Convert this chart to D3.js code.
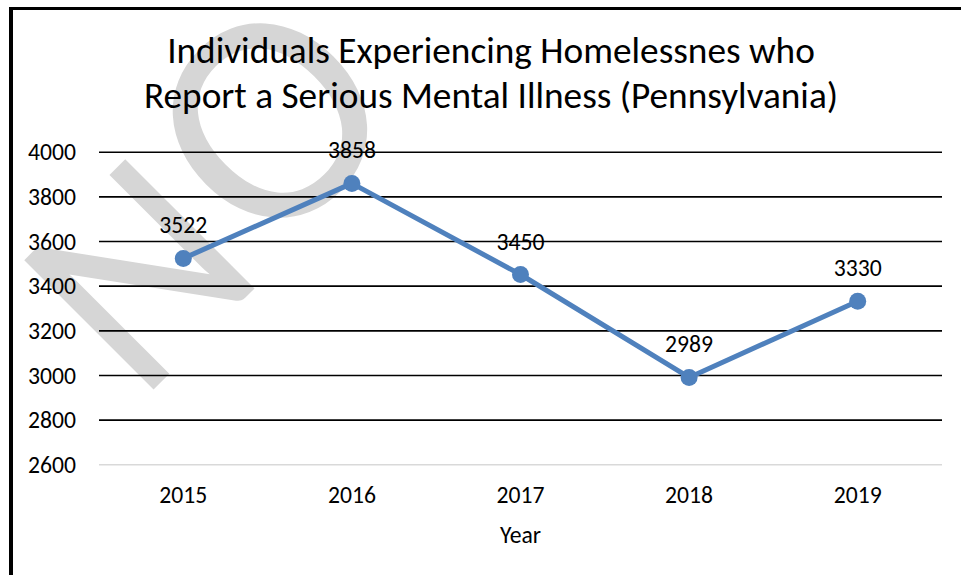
<!DOCTYPE html>
<html>
<head>
<meta charset="utf-8">
<script src="https://cdn.jsdelivr.net/npm/d3@7"></script>
<style>
  body { margin: 0; background: #fff; }
  svg text { font-family: Carlito, Calibri, Lato, sans-serif; fill: #000; }
</style>
</head>
<body>
<svg id="chart" width="961" height="575"></svg>
<script>
// data
var years = ["2015", "2016", "2017", "2018", "2019"];
var counts = [3522, 3858, 3450, 2989, 3330];
var yTicks = [2600, 2800, 3000, 3200, 3400, 3600, 3800, 4000];
var titleLines = ["Individuals Experiencing Homelessnes who",
                  "Report a Serious Mental Illness (Pennsylvania)"];
var xTitle = "Year";
var watermark = ["N", "O"];

var svg = d3.select("#chart"),
    width = +svg.attr("width"),
    height = +svg.attr("height");

svg.append("rect").attr("width", width).attr("height", height).attr("fill", "#fff");

// grey watermark behind everything
var wm = svg.append("text")
   .attr("transform", "translate(139,404) rotate(-45)")
   .style("font-size", "285px")
   .style("fill", "#d6d6d6");
wm.selectAll("tspan")
   .data(watermark)
   .enter().append("tspan")
   .attr("dx", function(d, i) { return i == 0 ? 0 : 8; })
   .attr("dy", function(d, i) { return i == 0 ? 0 : -10; })
   .style("font-size", function(d, i) { return i == 0 ? null : "305px"; })
   .text(function(d) { return d; });

// frame (left and top edges show)
svg.append("line").attr("x1", 11).attr("x2", 11).attr("y1", 7).attr("y2", height)
   .attr("stroke", "#000").attr("stroke-width", 4);
svg.append("line").attr("x1", 9).attr("x2", width).attr("y1", 8.5).attr("y2", 8.5)
   .attr("stroke", "#000").attr("stroke-width", 3);

var plot = { left: 99, right: 942, top: 151.7, bottom: 464.3 };

var x = d3.scaleBand().domain(years).range([plot.left, plot.right]);
var y = d3.scaleLinear().domain([2600, 4000]).range([plot.bottom, plot.top]);
var cx = function(d) { return x(d) + x.bandwidth() / 2; };

// pick a font size that gives the widths seen in the picture
function fitSize(str, target, base) {
  var t = svg.append("text").style("font-size", base + "px").text(str);
  var w = t.node().getComputedTextLength();
  t.remove();
  return base * target / w;
}
var titleSize = fitSize(titleLines[0], 648, 32);
var tickSize = fitSize("4000", 48, 20);

// title
svg.selectAll(".title")
   .data(titleLines)
   .enter().append("text")
   .attr("class", "title")
   .attr("x", 491)
   .attr("y", function(d, i) { return 63 + i * 45; })
   .attr("text-anchor", "middle")
   .style("font-size", titleSize + "px")
   .text(function(d) { return d; });

// y axis + gridlines
var yAxis = svg.append("g")
   .attr("transform", "translate(" + plot.left + ",0)")
   .call(d3.axisLeft(y).tickValues(yTicks).tickFormat(d3.format("d"))
         .tickSize(-(plot.right - plot.left)).tickPadding(23));
yAxis.select(".domain").remove();
yAxis.selectAll("line")
   .attr("stroke", function(d) { return d == 2600 ? "#d9d9d9" : "#000"; })
   .attr("stroke-width", function(d) { return d == 2600 ? 1.5 : 1.6; });
yAxis.selectAll("text")
   .attr("dy", "0.35em")
   .style("font-size", tickSize + "px")
   .attr("font-family", null);

// x axis labels
var xAxis = svg.append("g")
   .attr("transform", "translate(0," + plot.bottom + ")")
   .call(d3.axisBottom(x).tickSize(0).tickPadding(0));
xAxis.select(".domain").remove();
xAxis.selectAll("text")
   .attr("y", 38.7).attr("dy", null)
   .style("font-size", tickSize + "px")
   .attr("font-family", null);

svg.append("text")
   .attr("x", (plot.left + plot.right) / 2)
   .attr("y", 543)
   .attr("text-anchor", "middle")
   .style("font-size", tickSize + "px")
   .text(xTitle);

// the series
var data = years.map(function(d, i) { return { year: d, value: counts[i] }; });

var line = d3.line()
   .x(function(d) { return cx(d.year); })
   .y(function(d) { return y(d.value); });

svg.append("path")
   .datum(data)
   .attr("d", line)
   .attr("fill", "none")
   .attr("stroke", "#4f81bd")
   .attr("stroke-width", 5)
   .attr("stroke-linejoin", "round");

svg.selectAll(".dot")
   .data(data)
   .enter().append("circle")
   .attr("class", "dot")
   .attr("cx", function(d) { return cx(d.year); })
   .attr("cy", function(d) { return y(d.value); })
   .attr("r", 8.5)
   .attr("fill", "#4f81bd");

svg.selectAll(".val")
   .data(data)
   .enter().append("text")
   .attr("class", "val")
   .attr("x", function(d) { return cx(d.year); })
   .attr("y", function(d) { return y(d.value) - 25; })
   .attr("text-anchor", "middle")
   .style("font-size", tickSize + "px")
   .text(function(d) { return d.value; });
</script>
</body>
</html>
